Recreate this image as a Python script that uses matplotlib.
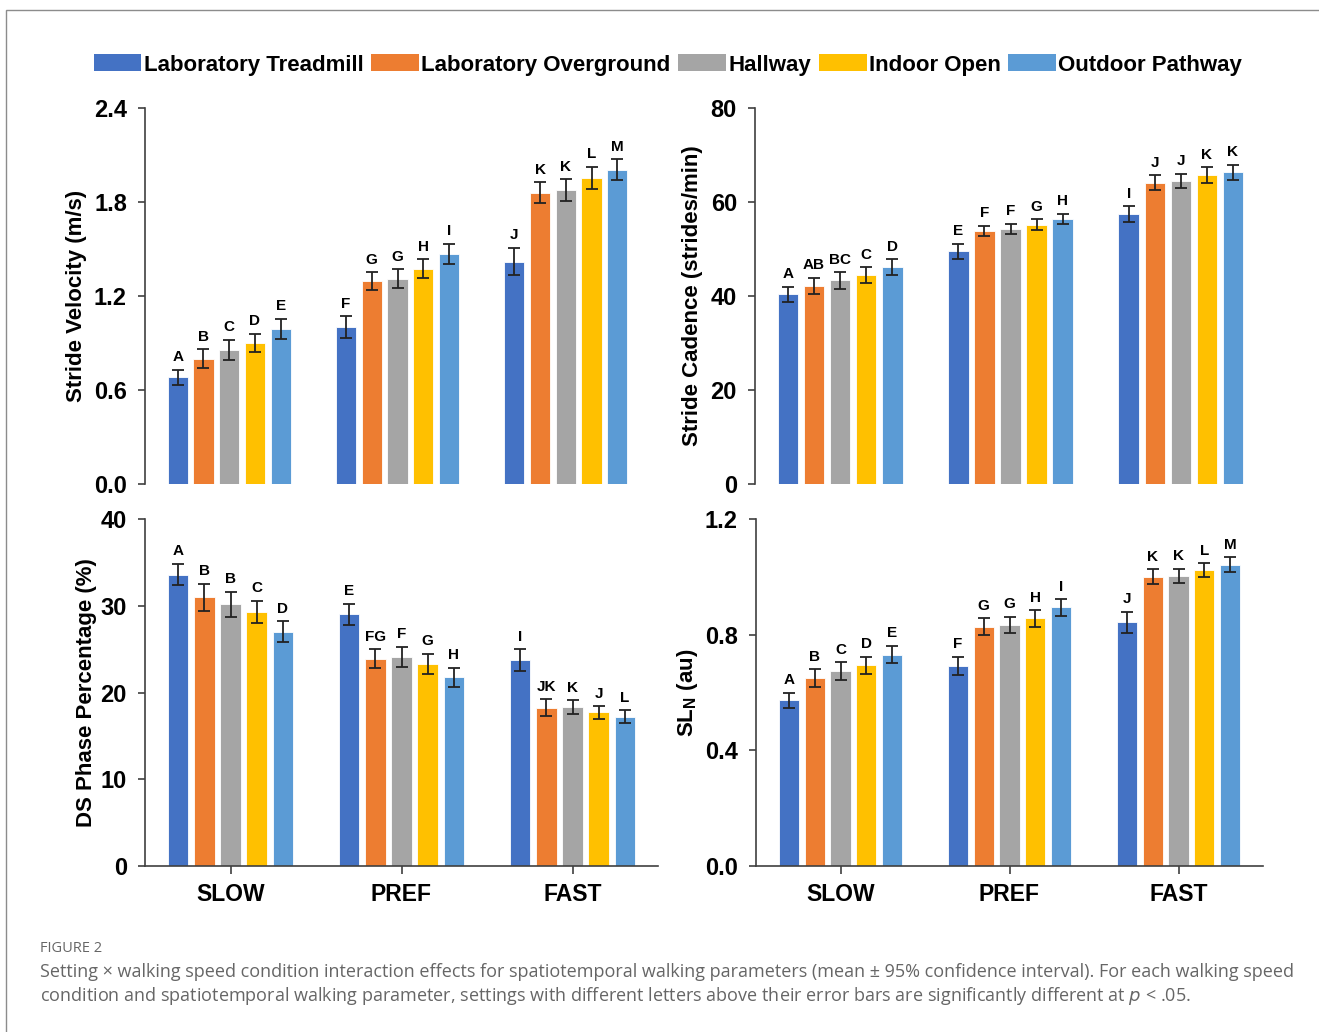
import matplotlib
matplotlib.use("Agg")
import matplotlib.pyplot as plt
import numpy as np
from matplotlib.patches import Rectangle, Patch

plt.rcParams['font.family'] = ['Liberation Sans', 'DejaVu Sans']

# data
settings = ['Laboratory Treadmill', 'Laboratory Overground', 'Hallway', 'Indoor Open', 'Outdoor Pathway']
colors = ['#4472C4', '#ED7D31', '#A5A5A5', '#FFC000', '#5B9BD5']
speeds = ['SLOW', 'PREF', 'FAST']

# rows = speed condition, cols = setting
velocity_mean = [[0.68, 0.80, 0.855, 0.90, 0.99],
                 [1.00, 1.295, 1.31, 1.375, 1.47],
                 [1.42, 1.86, 1.875, 1.955, 2.005]]
velocity_ci = [[0.048, 0.06, 0.066, 0.06, 0.066],
               [0.071, 0.057, 0.06, 0.06, 0.064],
               [0.089, 0.066, 0.069, 0.069, 0.067]]
velocity_letters = [['A', 'B', 'C', 'D', 'E'],
                    ['F', 'G', 'G', 'H', 'I'],
                    ['J', 'K', 'K', 'L', 'M']]

cadence_mean = [[40.4, 42.1, 43.3, 44.4, 46.2],
                [49.5, 53.9, 54.3, 55.2, 56.4],
                [57.4, 64.1, 64.5, 65.7, 66.3]]
cadence_ci = [[1.6, 1.77, 1.77, 1.74, 1.63],
              [1.67, 1.1, 1.06, 1.13, 1.06],
              [1.67, 1.6, 1.56, 1.67, 1.6]]
cadence_letters = [['A', 'AB', 'BC', 'C', 'D'],
                   ['E', 'F', 'F', 'G', 'H'],
                   ['I', 'J', 'J', 'K', 'K']]

ds_mean = [[33.6, 31.0, 30.2, 29.3, 27.0],
           [29.0, 23.9, 24.1, 23.3, 21.75],
           [23.7, 18.25, 18.3, 17.7, 17.2]]
ds_ci = [[1.25, 1.56, 1.44, 1.3, 1.23],
         [1.23, 1.1, 1.15, 1.15, 1.1],
         [1.27, 0.98, 0.79, 0.71, 0.77]]
ds_letters = [['A', 'B', 'B', 'C', 'D'],
              ['E', 'FG', 'F', 'G', 'H'],
              ['I', 'JK', 'K', 'J', 'L']]

sln_mean = [[0.574, 0.65, 0.673, 0.694, 0.731],
            [0.692, 0.828, 0.833, 0.856, 0.894],
            [0.843, 1.0, 1.003, 1.024, 1.042]]
sln_ci = [[0.026, 0.031, 0.031, 0.029, 0.030],
          [0.032, 0.028, 0.028, 0.028, 0.029],
          [0.036, 0.026, 0.025, 0.023, 0.025]]
sln_letters = [['A', 'B', 'C', 'D', 'E'],
               ['F', 'G', 'G', 'H', 'I'],
               ['J', 'K', 'K', 'L', 'M']]

W, H = 1319, 1032
fig = plt.figure(figsize=(W / 100, H / 100), dpi=100)


def px_axes(left, top, width, height):
	return fig.add_axes([left / W, 1 - (top + height) / H, width / W, height / H])


def paint_panel(ax, mean, ci, letters, ymax, ystep, fmt, ylabel, labx, bottom_axis):
	mean = np.array(mean)
	ci = np.array(ci)
	x = np.arange(len(speeds))
	step = 0.153
	width = 0.12
	for j in range(len(settings)):
		xs = x + (j - 2) * step
		ax.bar(xs, mean[:, j], width, color=colors[j], edgecolor='white', linewidth=0.6,
		       zorder=2, label=settings[j])
		ax.errorbar(xs, mean[:, j], yerr=ci[:, j], fmt='none', ecolor='#222222',
		            elinewidth=1.3, capsize=4, capthick=1.3, zorder=3)
		for i in range(len(speeds)):
			ax.annotate(letters[i][j], xy=(xs[i], mean[i, j] + ci[i, j]), xytext=(0, 4),
			            textcoords='offset points', ha='center', va='bottom',
			            fontsize=11, fontweight='bold')
	ax.set_xlim(-0.5, 2.5)
	ax.set_ylim(0, ymax)
	ticks = np.arange(0, ymax + ystep / 2, ystep)
	ax.set_yticks(ticks)
	ax.set_yticklabels([fmt.format(v) for v in ticks], fontsize=17, fontweight='bold')
	ax.tick_params(axis='y', length=5, width=1.2, pad=8, color='#404040')
	for s in ['top', 'right']:
		ax.spines[s].set_visible(False)
	ax.spines['left'].set_color('#404040')
	ax.spines['left'].set_linewidth(1.2)
	if bottom_axis:
		ax.set_xticks(x)
		ax.set_xticklabels(speeds, fontsize=16.5, fontweight='bold')
		ax.tick_params(axis='x', length=6, width=1.2, pad=6, color='#404040')
		ax.spines['bottom'].set_color('#404040')
		ax.spines['bottom'].set_linewidth(1.2)
	else:
		ax.spines['bottom'].set_visible(False)
		ax.set_xticks([])
	ax.set_ylabel(ylabel, fontsize=16, fontweight='bold')
	ax.yaxis.set_label_coords(labx, 0.5)


ax1 = px_axes(145, 108, 505, 376)
ax2 = px_axes(755, 108, 511, 376)
ax3 = px_axes(145, 519, 513, 347)
ax4 = px_axes(756, 519, 507, 347)

paint_panel(ax1, velocity_mean, velocity_ci, velocity_letters, 2.4, 0.6, '{:.1f}',
            'Stride Velocity (m/s)', -0.115, False)
paint_panel(ax2, cadence_mean, cadence_ci, cadence_letters, 80, 20, '{:.0f}',
            'Stride Cadence (strides/min)', -0.102, False)
paint_panel(ax3, ds_mean, ds_ci, ds_letters, 40, 10, '{:.0f}',
            'DS Phase Percentage (%)', -0.094, True)
paint_panel(ax4, sln_mean, sln_ci, sln_letters, 1.2, 0.4, '{:.1f}',
            'SL$_\\mathregular{N}$ (au)', -0.11, True)

handles = [Patch(facecolor=c) for c in colors]
fig.legend(handles, settings, loc='center', bbox_to_anchor=(668 / W, 1 - 65 / H), ncol=5,
           frameon=False, prop={'weight': 'bold', 'size': 16}, handlelength=2.15,
           handleheight=0.8, handletextpad=0.1, columnspacing=0.35, borderpad=0)

# caption
cap = dict(family=['Open Sans', 'DejaVu Sans'], color='#666666')
fig.text(40 / W, 1 - 949 / H, 'FIGURE 2', fontsize=10.5, va='center', **cap)
fig.text(40 / W, 1 - 972 / H,
         'Setting \u00d7 walking speed condition interaction effects for spatiotemporal walking parameters '
         '(mean \u00b1 95% confidence interval). For each walking speed',
         fontsize=13, va='center', **cap)
fig.text(40 / W, 1 - 996 / H,
         'condition and spatiotemporal walking parameter, settings with different letters above their '
         'error bars are significantly different at $\\it{p}$ < .05.',
         fontsize=13, va='center', **cap)

# frame round the figure
fig.patches.append(Rectangle((6 / W, -0.1), 1.2, 1 - 10 / H + 0.1, transform=fig.transFigure,
                             fill=False, edgecolor='#8c8c8c', linewidth=1))

fig.savefig('out.png', dpi=100)
